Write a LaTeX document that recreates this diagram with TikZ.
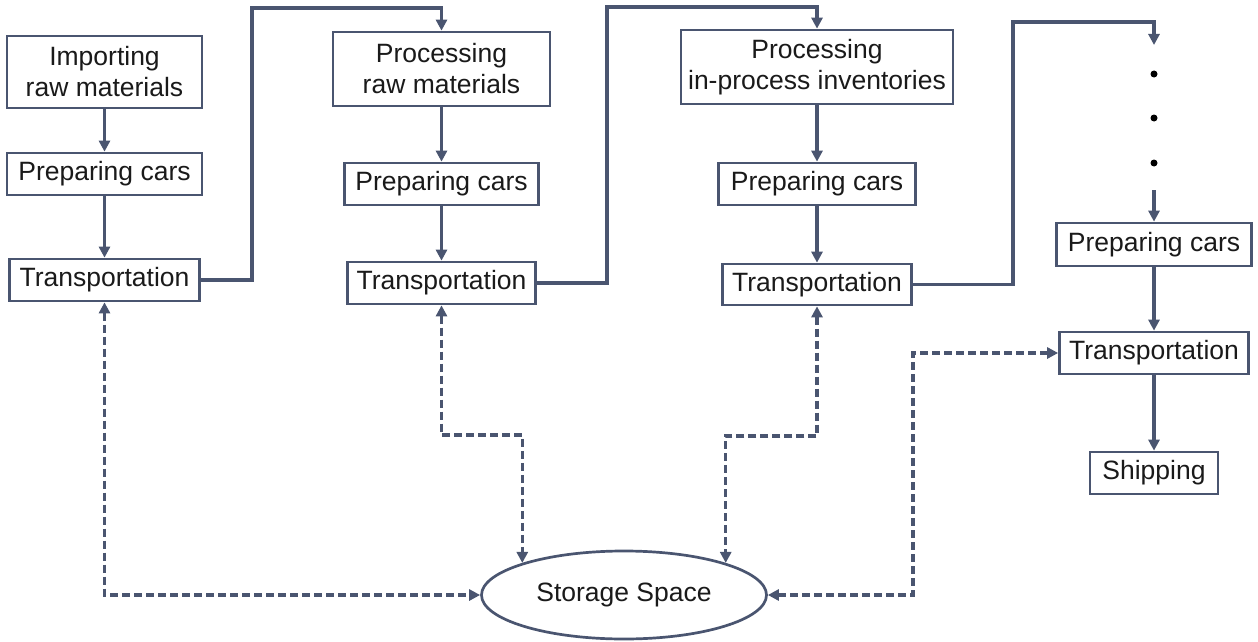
\documentclass[tikz,border=0pt]{standalone}
\usepackage{fontspec}
\setmainfont{Liberation Sans}
\usetikzlibrary{arrows.meta,shapes.geometric}
\definecolor{ln}{RGB}{74,85,112}
\definecolor{tx}{RGB}{26,26,26}
\begin{document}
\begin{tikzpicture}[x=1pt,y=-1pt,
  box/.style={draw=ln, line width=2.7pt, fill=white, inner sep=0pt, align=center,
    font=\fontsize{26.5}{31}\selectfont, text=tx},
  flow/.style={draw=ln, line width=3.3pt, -{Triangle[length=11pt,width=11pt]}},
  dflow/.style={draw=ln, line width=3.3pt, dash pattern=on 8pt off 4pt,
    {Triangle[length=11pt,width=11pt]}-{Triangle[length=11pt,width=11pt]}},
  dot/.style={circle, fill=black, inner sep=0pt, minimum size=7pt}]
\useasboundingbox (0,0) rectangle (1258,642);

% first stage
\node[box, minimum width=195, minimum height=72] (imp) at (104.5,72) {Importing\\raw materials};
\node[box, minimum width=195, minimum height=42] (pc1) at (104.5,174) {Preparing cars};
\node[box, minimum width=190, minimum height=42] (tr1) at (104.5,280) {Transportation};

% second stage
\node[box, minimum width=217, minimum height=74] (prm) at (441.5,69) {Processing\\raw materials};
\node[box, minimum width=194, minimum height=42] (pc2) at (441.5,184) {Preparing cars};
\node[box, minimum width=188, minimum height=42] (tr2) at (441.5,283) {Transportation};

% third stage
\node[box, minimum width=272, minimum height=74] (pip) at (817,67) {Processing\\in-process inventories};
\node[box, minimum width=197, minimum height=42] (pc3) at (817,184) {Preparing cars};
\node[box, minimum width=189, minimum height=41] (tr3) at (817,284.5) {Transportation};

% last stage
\node[box, minimum width=195, minimum height=43] (pc4) at (1154,244.5) {Preparing cars};
\node[box, minimum width=189, minimum height=42] (tr4) at (1154,353) {Transportation};
\node[box, minimum width=128, minimum height=42] (ship) at (1154,473) {Shipping};

% storage
\node[box, ellipse, minimum width=285, minimum height=88] (store) at (624,595) {Storage Space};

% ellipsis dots
\node[dot] (d1) at (1154,74) {};
\node[dot] (d2) at (1154,118) {};
\node[dot] (d3) at (1154,163) {};

% routing points
\coordinate (j1) at (252,8);
\coordinate (j2) at (607,7);
\coordinate (j3) at (1013,22);
\coordinate (dtop) at (1154,45);
\coordinate (dbot) at (1154,190);
\coordinate (k2) at (480,435);
\coordinate (k3) at (770,436);
\coordinate (k4) at (913,470);

% solid flow
\draw[flow] (imp.south) -- (pc1.north);
\draw[flow] (pc1.south) -- (tr1.north);
\draw[flow] (tr1.east) -| (j1) -| (prm.north);
\draw[flow] (prm.south) -- (pc2.north);
\draw[flow] (pc2.south) -- (tr2.north);
\draw[flow] (tr2.east) -| (j2) -| (pip.north);
\draw[flow] (pip.south) -- (pc3.north);
\draw[flow] (pc3.south) -- (tr3.north);
\draw[flow] (tr3.east) -| (j3) -| (dtop);
\draw[flow] (dbot) -- (pc4.north);
\draw[flow] (pc4.south) -- (tr4.north);
\draw[flow] (tr4.south) -- (ship.north);

% storage links
\draw[dflow] (tr1.south) |- (store.west);
\draw[dflow] (tr2.south) |- (k2) -| (store.north west);
\draw[dflow] (tr3.south) |- (k3) -| (store.north east);
\draw[dflow] (tr4.west) -| (k4) |- (store.east);
\end{tikzpicture}
\end{document}
